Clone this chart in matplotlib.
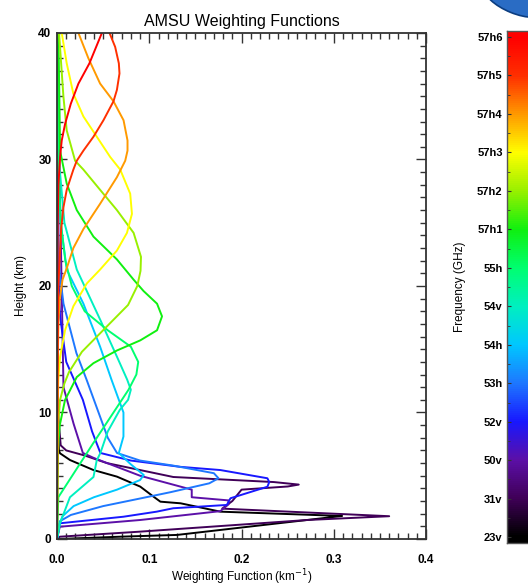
import numpy as np
import matplotlib
matplotlib.use('Agg')
from matplotlib import pyplot as plt
from matplotlib.colors import LinearSegmentedColormap
from matplotlib.patches import Ellipse
from matplotlib.ticker import MultipleLocator

plt.rcParams['font.family'] = ['Liberation Sans', 'DejaVu Sans']

# channels, bottom of the colour bar to the top
channels = ['23v', '31v', '50v', '52v', '53h', '54h', '54v', '55h',
            '57h1', '57h2', '57h3', '57h4', '57h5', '57h6']
colors = ['#000000', '#400058', '#5c10a8', '#1818ff', '#1e78ff', '#00c8ff', '#00f0c0',
          '#00ff70', '#10f010', '#98f000', '#ffff00', '#ff9a00', '#ff3000', '#ff0000']

# weighting functions: height (km) and value (1/km)
h_23v = [40, 10, 7.0, 6.77, 6.24, 5.45, 4.93, 4.14, 3.34, 2.95, 2.82, 2.16, 1.82, 0.32, 0.18, 0]
w_23v = [0, .001, .002, .0033, .0141, .0395, .0649, .0902, .1047, .112, .134, .177, .309, .13, .068, .002]

h_31v = [40, 10, 7.4, 7.0, 6.6, 6.0, 4.9, 4.5, 4.3, 4.15, 3.9, 3.0, 2.4, 1.8, 1.5, 0.58, 0.18, 0]
w_31v = [0, .001, .004, .010, .030, .054, .126, .235, .262, .25, .20, .19, .179, .36, .271, .09, .003, 0]

h_50v = [40, 12, 9.1, 6.8, 6.4, 5.0, 3.9, 3.3, 3.05, 2.75, 2.2, 1.5, 0.97, 0]
w_50v = [0, .007, .018, .028, .04, .09, .146, .146, .186, .186, .177, .09, .003, 0]

h_52v = [40, 25, 20, 17.6, 14, 11, 8.5, 6.8, 6.2, 5.7, 5.45, 4.8, 4.5, 4.13, 3.22, 2.69, 2.43, 2.16, 1.76, 1.24, 0]
w_52v = [0, .001, .002, .0033, .010, .028, .038, .047, .08, .134, .177, .228, .230, .228, .188, .184, .126, .108, .072, .003, 0]

h_53h = [40, 25, 21, 18.6, 14.7, 12.6, 11, 8, 6.8, 6.2, 5.8, 5.2, 4.8, 4.4, 3.7, 3.2, 2.6, 1.9, 1.4, 0]
w_53h = [0, .001, .003, .007, .021, .032, .040, .055, .065, .090, .126, .170, .175, .165, .123, .090, .050, .015, .003, 0]

h_54h = [40, 30, 25, 21.3, 18.6, 15.2, 12.6, 11.0, 10.0, 8.1, 6.8, 5.9, 5.06, 4.66, 3.9, 3.3, 2.6, 1.8, 1.2, 0]
w_54h = [.0002, .001, .004, .0105, .0286, .0467, .059, .067, .072, .072, .067, .080, .094, .090, .065, .040, .018, .006, .003, 0]

h_54v = [40, 30, 25, 21.3, 17.3, 14.4, 12.6, 11.8, 11.0, 10.2, 8.5, 6.8, 6.2, 4.9, 3.3, 1.2, 0]
w_54v = [.0003, .002, .008, .0214, .047, .065, .076, .080, .077, .068, .055, .047, .043, .0395, .014, .003, 0]

h_55h = [40, 30, 25, 22, 20, 18, 16.5, 15.2, 14, 13, 11.8, 7.6, 3.3, 0]
w_55h = [.0005, .0015, .004, .009, .016, .030, .055, .080, .088, .086, .0775, .0395, .0014, 0]

h_57h1 = [40, 35, 30.7, 28.1, 26.0, 23.9, 22.1, 20.5, 19.6, 18.6, 17.6, 16.5, 15.7, 14.9, 13.9, 12.8, 11.5, 11.0, 9, 7, 0]
w_57h1 = [.0015, .0025, .0033, .0105, .0214, .0395, .0649, .0830, .0938, .1084, .1138, .1084, .0902, .0649, .0395, .0214, .0123, .0087, .003, .001, 0]

h_57h2 = [40, 35, 32.3, 29.9, 29.2, 27.6, 26.0, 24.2, 22.3, 21.2, 20.0, 18.5, 16.8, 14.8, 13.2, 12.3, 11.0, 9, 6, 0]
w_57h2 = [.0022, .0069, .0105, .0196, .0286, .0467, .0649, .0830, .0910, .0905, .0870, .0770, .0540, .0270, .0130, .0080, .0033, .0012, .0004, 0]

h_57h3 = [40, 37.6, 35.2, 33.4, 31.8, 30.2, 29.2, 27.3, 25.7, 24.2, 22.8, 21.3, 20.2, 18.4, 16.5, 14.4, 12.6, 10, 5, 0]
w_57h3 = [.0051, .0105, .0177, .0286, .0431, .0576, .0685, .0793, .0812, .0758, .0649, .0467, .0323, .0177, .0087, .0033, .0014, .0005, .0002, 0]

h_57h4 = [40, 38.0, 36.0, 34.6, 33.1, 31.5, 30.7, 29.9, 28.6, 26.5, 24.5, 23.0, 21.4, 20.5, 19, 17, 14, 10, 0]
w_57h4 = [.0232, .0340, .0467, .0612, .0721, .0764, .0764, .0739, .0649, .0467, .0286, .0177, .0105, .0060, .0030, .0015, .0008, .0003, 0]

h_57h5 = [40, 38.9, 37.6, 36.8, 35.5, 34.6, 33.1, 31.8, 30.7, 29.9, 29.2, 27.6, 26.2, 24.5, 22.8, 20, 15, 0]
w_57h5 = [.0569, .0630, .0670, .0677, .0649, .0612, .0503, .0395, .0286, .0214, .0177, .0105, .0069, .0045, .0033, .0015, .0005, 0]

h_57h6 = [40, 37.6, 36.0, 34.4, 32.8, 31.5, 30.2, 28, 25, 20, 10, 0]
w_57h6 = [.0486, .0351, .0232, .0149, .0087, .0051, .0033, .0015, .0008, .0004, .0002, 0]

heights = [h_23v, h_31v, h_50v, h_52v, h_53h, h_54h, h_54v, h_55h,
           h_57h1, h_57h2, h_57h3, h_57h4, h_57h5, h_57h6]
weights = [w_23v, w_31v, w_50v, w_52v, w_53h, w_54h, w_54v, w_55h,
           w_57h1, w_57h2, w_57h3, w_57h4, w_57h5, w_57h6]

fig = plt.figure(figsize=(5.28, 5.87), dpi=100)
ax = fig.add_axes([0.108, 0.0818, 0.699, 0.862])

for h, w, c in zip(heights, weights, colors):
    ax.plot(w, h, color=c, lw=1.4, clip_on=True)

ax.set_xlim(0, 0.4)
ax.set_ylim(0, 40)
ax.xaxis.set_minor_locator(MultipleLocator(0.01))
ax.yaxis.set_major_locator(MultipleLocator(10))
ax.yaxis.set_minor_locator(MultipleLocator(1))
ax.set_xticks([0, 0.1, 0.2, 0.3, 0.4])
ax.set_xticklabels(['0.0', '0.1', '0.2', '0.3', '0.4'])
ax.tick_params(which='both', direction='in', top=True, right=True, color='#333333', width=1)
ax.tick_params(which='major', length=7, labelsize=8.5)
ax.tick_params(which='minor', length=4)
ax.tick_params(axis='x', pad=11)
ax.tick_params(axis='y', pad=4)
for lab in ax.get_xticklabels() + ax.get_yticklabels():
    lab.set_fontweight('bold')
for s in ax.spines.values():
    s.set_linewidth(1.3)
    s.set_color('#333333')

ax.set_title('AMSU Weighting Functions', fontsize=11.5, pad=5)
ax.set_xlabel('Weighting Function (km$^{-1}$)', fontsize=8.5, labelpad=1)
ax.set_ylabel('Height (km)', fontsize=8.5, labelpad=8)

# colour bar, channel colours at the tick positions
n = len(channels)
pos = [(i + 0.15) / (n - 1 + 0.3) for i in range(n)]
cmap = LinearSegmentedColormap.from_list('amsu', [(0.0, '#000000')] + list(zip(pos, colors)) + [(1.0, '#ff0000')])
cax = fig.add_axes([0.960, 0.075, 0.05, 0.872])
grad = np.linspace(0, 1, 256).reshape(-1, 1)
cax.imshow(grad, aspect='auto', cmap=cmap, origin='lower', extent=[0, 1, -0.15, n - 1 + 0.15])
cax.set_xlim(0, 1)
cax.set_ylim(-0.15, n - 1 + 0.15)
cax.set_xticks([])
cax.set_yticks(range(n))
cax.set_yticklabels(channels, fontweight='bold')
cax.yaxis.set_minor_locator(MultipleLocator(0.5))
cax.tick_params(which='both', direction='in', left=True, right=True, color='#333333', labelsize=8, pad=3)
cax.tick_params(which='major', length=3)
cax.tick_params(which='minor', length=2)
for s in cax.spines.values():
    s.set_linewidth(1)
    s.set_color('#555555')
cax.set_ylabel('Frequency (GHz)', fontsize=8.5, labelpad=8)
cax.yaxis.set_label_position('left')

# piece of the logo in the corner
fig.patches.append(Ellipse((0.975, 1.0), 0.12, 0.045, angle=-20, transform=fig.transFigure,
                           facecolor='#2a6cc4', edgecolor='#0b3d80', lw=1.2))

fig.savefig('out.png', dpi=100)
